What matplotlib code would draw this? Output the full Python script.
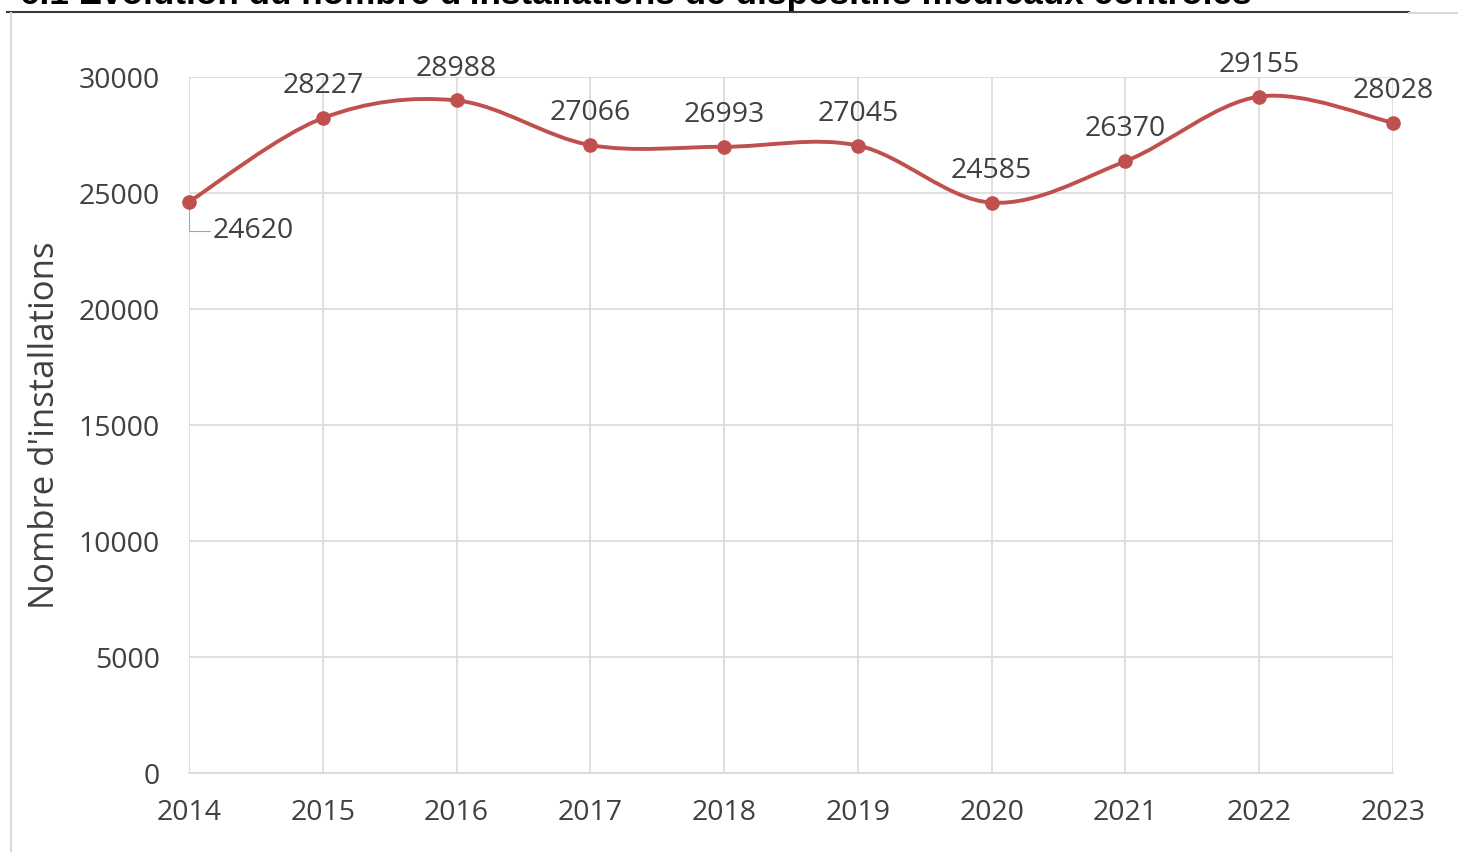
import matplotlib
matplotlib.use("Agg")
import matplotlib.pyplot as plt
from matplotlib.path import Path
from matplotlib.patches import PathPatch
from matplotlib.lines import Line2D

years = [2014, 2015, 2016, 2017, 2018, 2019, 2020, 2021, 2022, 2023]
values = [24620, 28227, 28988, 27066, 26993, 27045, 24585, 26370, 29155, 28028]
yticks = [0, 5000, 10000, 15000, 20000, 25000, 30000]
title = "6.1 Évolution du nombre d'installations de dispositifs médicaux contrôlés"
ylabel = "Nombre d'installations"

RED = "#c0504d"
TXT = "#404040"
GRID = "#d9d9d9"
FONT = ["Open Sans", "DejaVu Sans"]
FS = 20.5

fig = plt.figure(figsize=(14.58, 8.52), dpi=100)
W, H = 1458, 852

# frame elements
fig.add_artist(Line2D([7 / W, 1409 / W], [1 - 12 / H, 1 - 12 / H], color="#3a3a3a", lw=1.5))
fig.add_artist(Line2D([1409 / W, 1.0], [1 - 13 / H, 1 - 13 / H], color="#d9d9d9", lw=1.5))
fig.add_artist(Line2D([10.5 / W, 10.5 / W], [0, 1 - 13 / H], color="#d9d9d9", lw=1.5))
fig.text(20 / W, 1 - 4 / H, title, ha="left", va="baseline", fontsize=25.3,
         fontweight="bold", family=["Liberation Sans", "DejaVu Sans"], color="black")

ax = fig.add_axes([189 / W, 1 - 773 / H, (1393 - 189) / W, (773 - 77) / H])
ax.set_xlim(years[0], years[-1])
ax.set_ylim(0, 30000)
ax.set_yticks(yticks)
ax.set_xticks(years)
ax.set_yticklabels([str(v) for v in yticks], fontsize=FS, color=TXT, family=FONT)
ax.set_xticklabels([str(y) for y in years], fontsize=FS, color=TXT, family=FONT)
ax.tick_params(length=0, pad=0)
ax.tick_params(axis="y", pad=21)
ax.tick_params(axis="x", pad=19)
ax.grid(True, color=GRID, lw=1.2)
ax.set_axisbelow(True)
for s in ["top", "right", "left"]:
    ax.spines[s].set_visible(False)
ax.spines["bottom"].set_color(GRID)
ax.spines["bottom"].set_linewidth(1.2)
ax.set_ylabel(ylabel, fontsize=25, color=TXT, family=FONT, labelpad=12)

# smoothed line (Catmull-Rom as cubic Bezier, like Excel smoothing)
pts = list(zip(years, values))
verts = [pts[0]]
codes = [Path.MOVETO]
n = len(pts)
for i in range(n - 1):
    p0 = pts[max(i - 1, 0)]
    p1 = pts[i]
    p2 = pts[i + 1]
    p3 = pts[min(i + 2, n - 1)]
    c1 = (p1[0] + (p2[0] - p0[0]) / 6, p1[1] + (p2[1] - p0[1]) / 6)
    c2 = (p2[0] - (p3[0] - p1[0]) / 6, p2[1] - (p3[1] - p1[1]) / 6)
    verts += [c1, c2, p2]
    codes += [Path.CURVE4] * 3
ax.add_patch(PathPatch(Path(verts, codes), facecolor="none", edgecolor=RED, lw=2.8,
                       clip_on=False, zorder=3))
ax.plot(years, values, "o", color=RED, ms=9.5, clip_on=False, zorder=4)

# labels
for i, (x, v) in enumerate(zip(years, values)):
    if i == 0:
        ax.annotate(str(v), xy=(x, v), xytext=(17, -21), textcoords="offset points",
                    ha="left", va="center", fontsize=FS, color=TXT, family=FONT,
                    arrowprops=dict(arrowstyle="-", color="#a6a6a6", lw=0.8,
                                    connectionstyle="angle,angleA=0,angleB=90,rad=0",
                                    shrinkA=0, shrinkB=0))
    else:
        ax.annotate(str(v), xy=(x, v), xytext=(0, 23), textcoords="offset points",
                    ha="center", va="center", fontsize=FS, color=TXT, family=FONT)

fig.savefig("out.png", dpi=100)
